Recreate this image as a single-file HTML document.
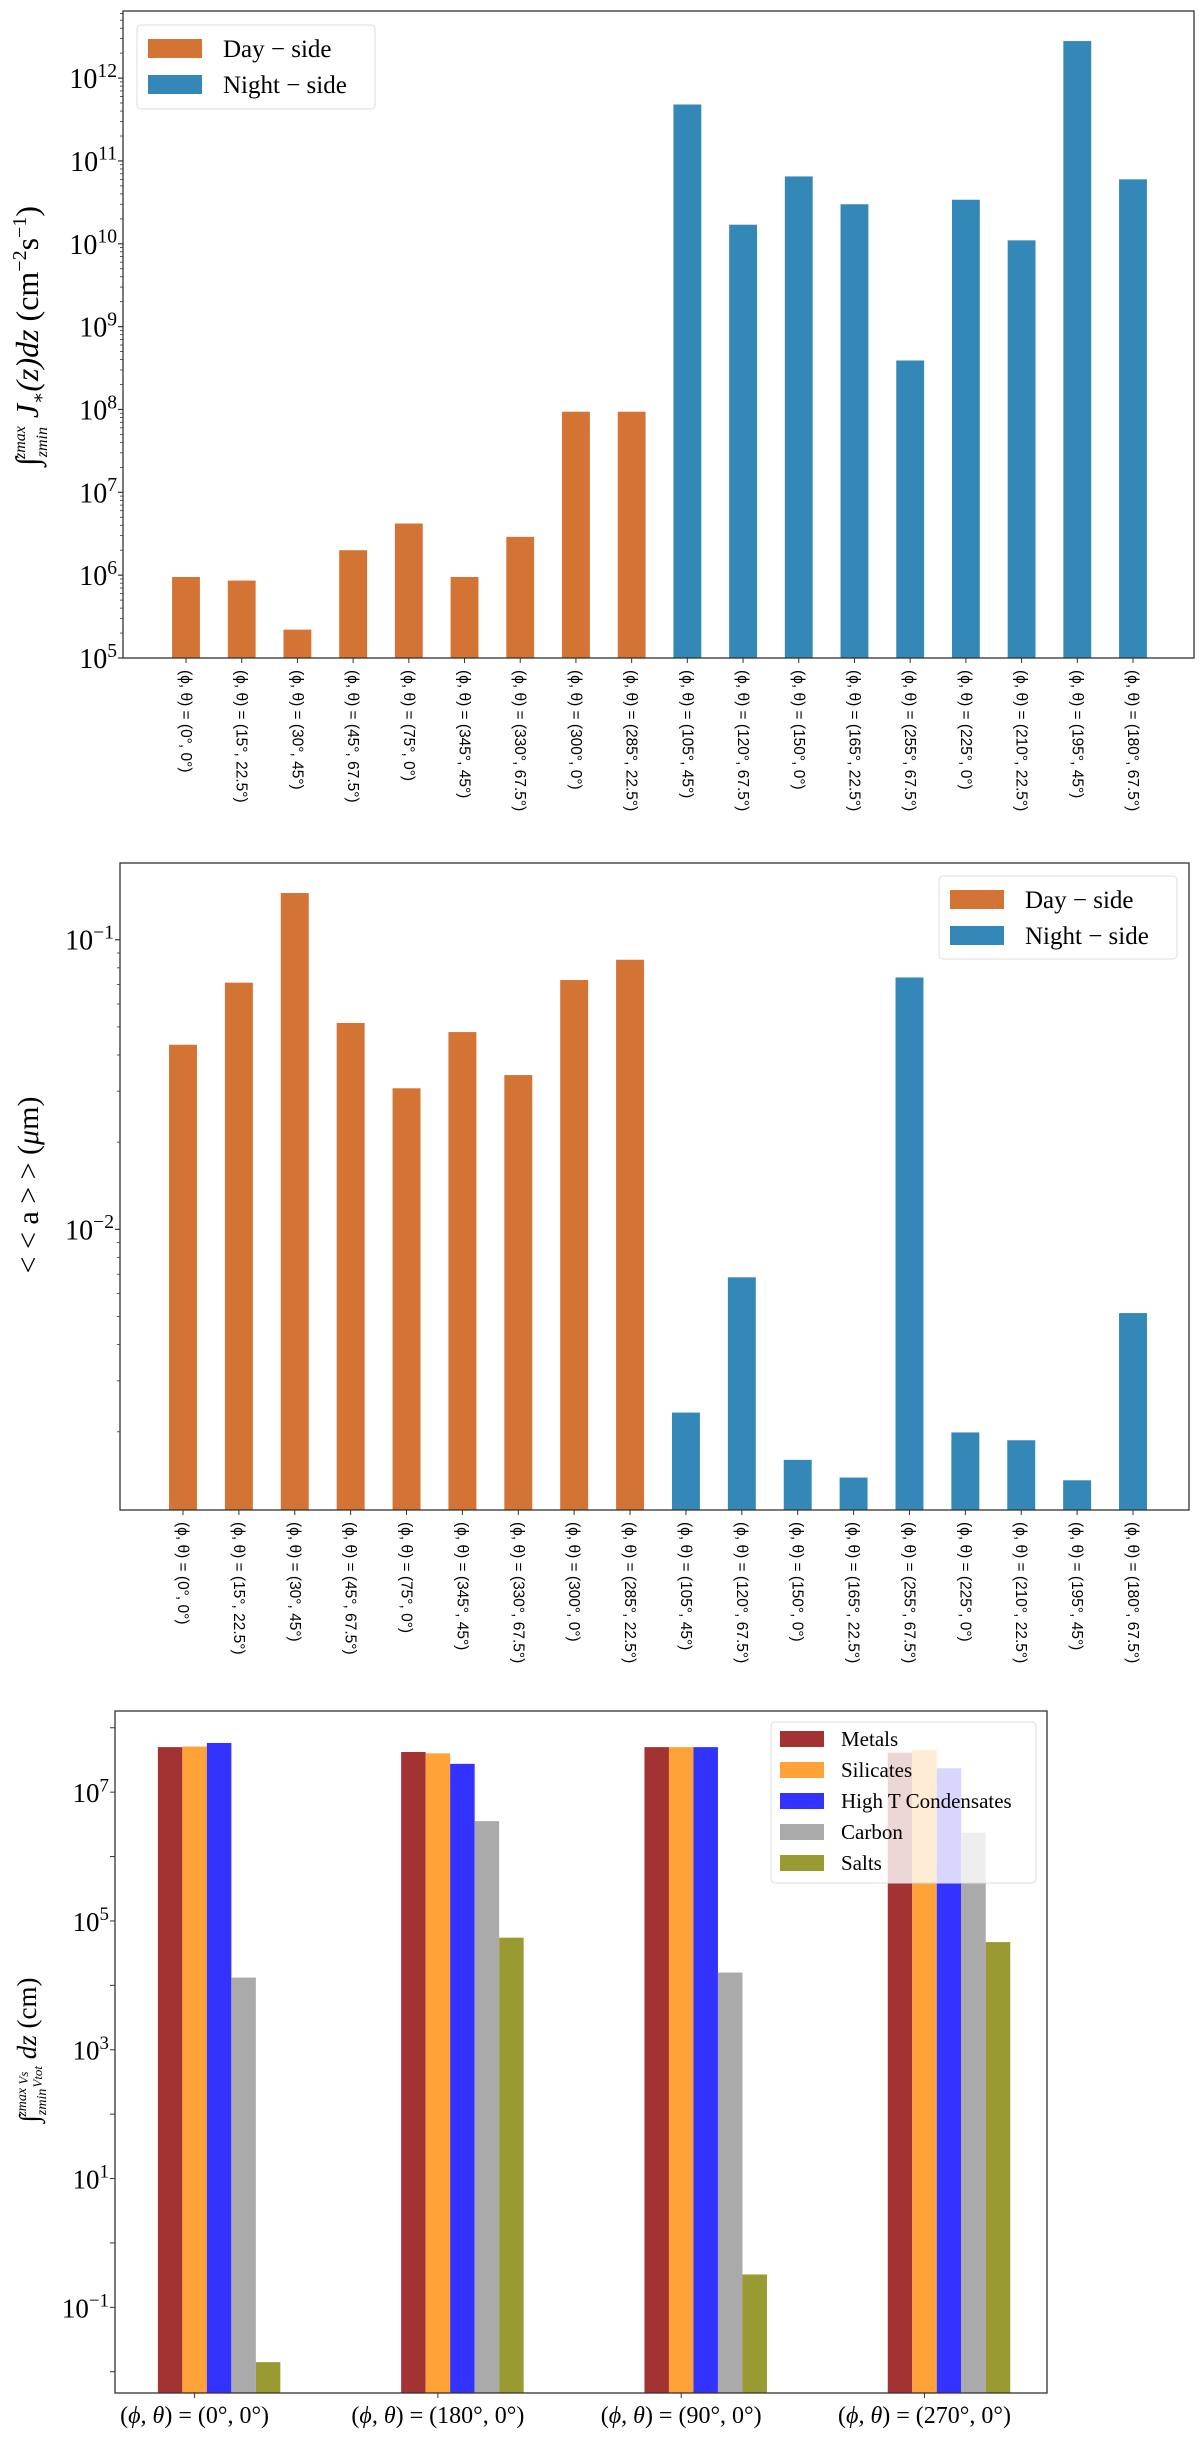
<!DOCTYPE html>
<html><head><meta charset="utf-8"><style>
html,body{margin:0;padding:0;background:#fff;}
svg{display:block;font-family:"Liberation Serif","DejaVu Serif",serif;}
</style></head><body>
<svg id="fig" width="1200" height="2441" viewBox="0 0 1200 2441" xmlns="http://www.w3.org/2000/svg"></svg>
<script>
// ---- Chart data ----
const positions = ["(0°, 0°)","(15°, 22.5°)","(30°, 45°)","(45°, 67.5°)","(75°, 0°)","(345°, 45°)","(330°, 67.5°)","(300°, 0°)","(285°, 22.5°)","(105°, 45°)","(120°, 67.5°)","(150°, 0°)","(165°, 22.5°)","(255°, 67.5°)","(225°, 0°)","(210°, 22.5°)","(195°, 45°)","(180°, 67.5°)"];
const sides = ["day","day","day","day","day","day","day","day","day","night","night","night","night","night","night","night","night","night"];
const fluxValues = [9.5e5,8.6e5,2.2e5,2.0e6,4.2e6,9.5e5,2.9e6,9.4e7,9.4e7,4.8e11,1.7e10,6.5e10,3.0e10,3.9e8,3.4e10,1.1e10,2.8e12,6.0e10];
const sizeValues = [0.0434,0.0711,0.145,0.0516,0.0307,0.048,0.0341,0.0726,0.0853,0.00233,0.00683,0.0016,0.00139,0.0741,0.00199,0.00187,0.00136,0.00514];
const fluxTicks = [5,6,7,8,9,10,11,12];
const sizeTicks = [-2,-1];
const groupLabels = ["(0°, 0°)","(180°, 0°)","(90°, 0°)","(270°, 0°)"];
const species = ["Metals","Silicates","High T Condensates","Carbon","Salts"];
const metals = [5.0e7,4.2e7,5.0e7,4.1e7];
const silicates = [5.1e7,4.0e7,5.0e7,4.5e7];
const highT = [5.8e7,2.75e7,5.0e7,2.35e7];
const carbon = [1.32e4,3.55e6,1.58e4,2.35e6];
const salts = [0.0141,5.5e4,0.324,4.7e4];
const volTicks = [-1,1,3,5,7];

const NS="http://www.w3.org/2000/svg";
const svg=document.getElementById('fig');
function el(tag,attrs,parent){const e=document.createElementNS(NS,tag);for(const k in attrs)e.setAttribute(k,attrs[k]);(parent||svg).appendChild(e);return e;}
const DAY="#d37434", NIGHT="#3388b8";
const speciesColors=["#a33233","#ffa238","#3333ff","#aaaaaa","#9a9a33"];

function logAxis(top,bottom,lmin,lmax){return v=>bottom-(Math.log10(v)-lmin)/(lmax-lmin)*(bottom-top);}
function sup(g,x,y,base,exp,size){
  const t=el('text',{x:x,y:y,'text-anchor':'end','font-size':size},g);
  t.textContent=base;
  const s=el('tspan',{dy:-size*0.4,'font-size':size*0.7},t);
  s.textContent=exp;
  return t;
}

function catChart(cfg){
  const g=el('g',{});
  
  
  const {L,R,T,B,lmin,lmax}=cfg;
  const y=logAxis(T,B,lmin,lmax);
  const n=positions.length;
  const step=(cfg.lastX-cfg.firstX)/(n-1);
  const xc=i=>cfg.firstX+i*step;
  const bw=step*0.5;
  cfg.values.forEach((v,i)=>{
    const r=el('rect',{x:xc(i)-bw/2,y:y(v),width:bw,height:B-y(v),fill:sides[i]==='day'?DAY:NIGHT},g);
    
    
  });
  el('rect',{x:L,y:T,width:R-L,height:B-T,fill:'none',stroke:'#333','stroke-width':1.3},g);
  positions.forEach((p,i)=>{
    el('line',{x1:xc(i),x2:xc(i),y1:B,y2:B+5,stroke:'#333'},g);
    const t=el('text',{transform:`translate(${xc(i)-5},${B+12}) rotate(90)`,'font-size':15.5,'font-family':'"Liberation Sans",sans-serif'},g);
    t.textContent='(ϕ, θ) = '+p;
    
    
  });
  for(let d=Math.floor(lmin);d<=Math.ceil(lmax);d++){
    for(let m=1;m<10;m++){
      const v=m*Math.pow(10,d);const lv=Math.log10(v);
      if(lv<lmin-1e-9||lv>lmax)continue;
      const yy=y(v);
      el('line',{x1:L-(m===1?5:3),x2:L,y1:yy,y2:yy,stroke:'#333','stroke-width':m===1?1.2:0.8},g);
    }
  }
  cfg.ticks.forEach(d=>{
    const t=sup(g,L-6,y(Math.pow(10,d))+10,'10',d<0?'−'+(-d):String(d),cfg.tickSize);
    
    
  });
  const yt=el('text',{transform:`translate(${cfg.ytX},${cfg.ytY}) rotate(-90)`,'text-anchor':'middle','font-size':cfg.ytSize},g);
  
  
  yt.innerHTML=cfg.ytitle;
  const lg=el('g',{},g);
  
  
  const [lx,ly,lw,lh]=cfg.legend;
  el('rect',{x:lx,y:ly,width:lw,height:lh,rx:4,fill:'#fff','fill-opacity':0.85,stroke:'#ddd'},lg);
  [['Day − side',DAY],['Night − side',NIGHT]].forEach((e,k)=>{
    const ey=ly+14+k*36;
    const sw=el('rect',{x:lx+11,y:ey,width:54,height:19,fill:e[1]},lg);
    
    
    const t=el('text',{x:lx+86,y:ey+18,'font-size':25},lg);
    t.textContent=e[0];
    
    
  });
}

catChart({name:'flux-chart',L:123,R:1194,T:11,B:658,lmin:5,lmax:12.81,firstX:186,lastX:1133,values:fluxValues,ticks:fluxTicks,tickSize:28,ytX:38,ytY:336,ytSize:32,
  ytitle:'<tspan font-style="italic">∫</tspan><tspan font-size="16" dy="9" font-style="italic">zmin</tspan><tspan font-size="16" dy="-22" dx="-32" font-style="italic">zmax</tspan><tspan dy="13" font-style="italic"> J</tspan><tspan font-size="18" dy="6">∗</tspan><tspan dy="-6" font-style="italic">(z)dz</tspan>   (cm<tspan font-size="20" dy="-12">−2</tspan><tspan dy="12">s</tspan><tspan font-size="20" dy="-12">−1</tspan><tspan dy="12">)</tspan>',
  legend:[137,25,238,84]});

catChart({name:'size-chart',L:120,R:1189,T:863,B:1510,lmin:-2.969,lmax:-0.735,firstX:183,lastX:1133,values:sizeValues,ticks:sizeTicks,tickSize:28,ytX:38,ytY:1185,ytSize:30,
  ytitle:'&lt; &lt; a &gt; &gt; (<tspan font-style="italic">μ</tspan>m)',
  legend:[939,876,238,83]});

(function(){
  const g=el('g',{});
  
  
  const L=115,R=1047,T=1711,B=2393,lmin=-2.33,lmax=8.26;
  const y=logAxis(T,B,lmin,lmax);
  const gx=i=>194.6+i*243.3;
  const bw=24.5;
  const series=[metals,silicates,highT,carbon,salts];
  series.forEach((arr,s)=>{
    arr.forEach((v,i)=>{
      const cx=gx(i)+(s-1)*bw;
      const r=el('rect',{x:cx-bw/2,y:y(v),width:bw,height:B-y(v),fill:speciesColors[s]},g);
      
      
    });
  });
  el('rect',{x:L,y:T,width:R-L,height:B-T,fill:'none',stroke:'#333','stroke-width':1.3},g);
  groupLabels.forEach((p,i)=>{
    el('line',{x1:gx(i),x2:gx(i),y1:B,y2:B+5,stroke:'#333'},g);
    const t=el('text',{x:gx(i),y:B+30,'text-anchor':'middle','font-size':24},g);
    t.innerHTML='(<tspan font-style="italic">ϕ, θ</tspan>) = '+p;
    
    
  });
  for(let d=-2;d<=8;d++){
    const yy=y(Math.pow(10,d));
    if(yy<T||yy>B)continue;
    el('line',{x1:L-5,x2:L,y1:yy,y2:yy,stroke:'#333'},g);
  }
  volTicks.forEach(d=>{
    const t=sup(g,L-6,y(Math.pow(10,d))+10,'10',d<0?'−'+(-d):String(d),27);
    
    
  });
  const yt=el('text',{transform:`translate(38,2050) rotate(-90)`,'text-anchor':'middle','font-size':27},g);
  
  
  yt.innerHTML='<tspan font-style="italic">∫</tspan><tspan font-size="14" dy="8" font-style="italic">zmin</tspan><tspan font-size="14" dy="-20" dx="-28" font-style="italic">zmax</tspan><tspan font-size="13" dy="2" font-style="italic"> Vs</tspan><tspan font-size="13" dy="14" dx="-16" font-style="italic">Vtot</tspan><tspan dy="-6" font-style="italic"> dz</tspan>   (cm)';
  const lg=el('g',{},g);
  
  
  el('rect',{x:771,y:1722,width:265,height:161,rx:4,fill:'#fff','fill-opacity':0.8,stroke:'#ddd'},lg);
  species.forEach((s,k)=>{
    const ey=1731+k*31;
    const sw=el('rect',{x:780,y:ey,width:44,height:16,fill:speciesColors[k]},lg);
    
    
    const t=el('text',{x:841,y:ey+15,'font-size':21},lg);
    t.textContent=s;
    
    
  });
})();
</script>
</body></html>
